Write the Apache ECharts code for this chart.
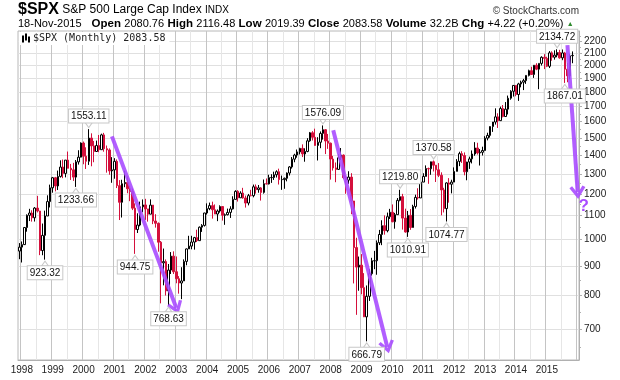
<!DOCTYPE html>
<html><head><meta charset="utf-8">
<script src="https://cdn.jsdelivr.net/npm/echarts@6/dist/echarts.min.js"></script>
<style>html,body{margin:0;padding:0;background:#fff}#c{width:620px;height:380px}</style>
</head><body><div id="c"></div>
<script>
// Monthly categories: Dec 1997 .. Jan 2016
const months = [];
for (let y = 1997; y <= 2016; y++) for (let m = 1; m <= 12; m++) {
  const k = y * 100 + m;
  if (k >= 199712 && k <= 201601) months.push(y + '-' + String(m).padStart(2, '0'));
}
const yTicks = [700, 800, 900, 1000, 1100, 1200, 1300, 1400, 1500, 1600, 1700, 1800, 1900, 2000, 2100, 2200];
const yMinorTicks = [650, 750, 850, 950, 1050, 1150, 1250, 1350, 1450, 1550, 1650, 1750, 1850, 1950, 2050, 2150, 2250];

const open = [955.40,
970.43,980.28,1049.34,1101.75,1111.75,1090.82,1133.84,1120.67,957.28,1017.01,1098.67,1163.63,
1229.23,1279.64,1238.33,1286.37,1335.18,1301.84,1372.71,1328.72,1320.41,1282.71,1362.93,1388.91,
1469.25,1394.46,1366.42,1498.58,1452.43,1420.60,1454.60,1430.83,1517.68,1436.51,1429.40,1314.95,
1320.28,1366.01,1239.94,1160.33,1249.46,1255.82,1224.42,1211.23,1133.58,1040.94,1059.78,1139.45,
1148.08,1130.20,1106.73,1147.39,1076.92,1067.14,989.82,911.62,916.07,815.28,885.76,936.31,
879.82,855.70,841.15,848.18,916.92,963.59,974.50,990.31,1008.01,995.97,1050.71,1058.20,
1111.92,1131.13,1144.94,1126.21,1107.30,1120.68,1140.84,1101.72,1104.24,1114.58,1130.20,1173.82,
1211.92,1181.27,1203.60,1180.59,1156.85,1191.50,1191.33,1234.18,1220.33,1228.81,1207.01,1249.48,
1248.29,1280.08,1280.66,1294.87,1310.61,1270.09,1270.20,1276.66,1303.82,1335.85,1377.94,1400.63,
1418.30,1438.24,1406.82,1420.86,1482.37,1530.62,1503.35,1455.27,1473.99,1526.75,1549.38,1481.14,
1468.36,1378.55,1330.63,1322.70,1385.59,1400.38,1280.00,1267.38,1282.83,1166.36,968.75,896.24,
903.25,825.88,735.09,797.87,872.81,919.14,919.32,987.48,1020.62,1057.08,1036.19,1095.63,
1115.10,1073.87,1104.49,1169.43,1186.69,1089.41,1030.71,1101.60,1049.33,1141.20,1183.26,1180.55,
1257.64,1286.12,1327.22,1325.83,1363.61,1345.20,1320.64,1292.28,1218.89,1131.42,1253.30,1246.96,
1257.60,1312.41,1365.68,1408.47,1397.91,1310.33,1362.16,1379.32,1406.58,1440.67,1412.16,1416.18,
1426.19,1498.11,1514.68,1569.19,1597.57,1630.74,1606.28,1685.73,1632.97,1681.55,1756.54,1805.81,
1848.36,1782.59,1859.45,1872.34,1883.95,1923.57,1960.23,1930.67,2003.37,1972.29,2018.05,2067.56,
2058.90,1994.99,2104.50,2067.89,2085.51,2107.39,2063.11,2103.84,1972.18,1920.03,2080.76];

const high = [986.25,
992.65,1051.66,1105.65,1130.52,1123.95,1138.49,1190.58,1121.26,1066.11,1122.31,1192.97,1244.93,
1283.56,1283.75,1316.55,1371.56,1375.98,1372.93,1420.33,1352.02,1357.74,1373.17,1427.68,1473.10,
1478.00,1444.55,1553.11,1527.19,1481.51,1483.76,1517.32,1525.21,1530.09,1454.82,1438.46,1389.06,
1383.37,1376.38,1267.42,1269.30,1315.93,1286.62,1239.78,1226.27,1155.40,1110.61,1163.38,1173.62,
1176.55,1130.20,1173.94,1147.84,1106.59,1070.74,994.46,965.00,924.02,907.44,951.57,954.28,
935.05,864.64,895.90,924.24,965.38,1015.33,1015.41,1011.01,1040.29,1053.79,1063.65,1112.56,
1155.38,1158.98,1163.23,1150.57,1127.74,1146.34,1140.84,1109.68,1131.54,1142.05,1188.46,1217.33,
1217.80,1212.44,1229.11,1191.88,1199.56,1219.59,1245.15,1245.86,1243.13,1233.34,1270.64,1275.80,
1294.90,1297.57,1310.88,1318.16,1326.70,1290.68,1280.42,1306.74,1340.28,1389.45,1407.89,1431.81,
1441.61,1461.57,1438.89,1498.02,1535.56,1540.56,1555.90,1503.89,1538.74,1576.09,1552.76,1523.57,
1471.77,1396.02,1359.68,1404.57,1440.24,1404.05,1292.17,1313.15,1303.04,1167.03,1007.51,934.73,
943.85,875.01,832.98,888.70,930.17,956.23,996.68,1039.47,1080.15,1101.36,1113.69,1130.38,
1150.45,1112.42,1180.16,1219.80,1200.00,1131.23,1120.95,1129.24,1148.90,1196.14,1227.08,1262.60,
1302.67,1344.07,1332.28,1364.56,1370.58,1345.20,1356.48,1307.38,1229.29,1256.55,1277.55,1269.37,
1333.47,1378.04,1419.15,1422.38,1415.32,1363.46,1391.74,1426.68,1474.51,1470.96,1434.27,1448.00,
1509.94,1530.94,1570.28,1597.57,1687.18,1654.19,1698.78,1709.67,1729.86,1775.22,1813.55,1849.44,
1850.84,1867.92,1883.97,1897.28,1924.03,1968.17,1991.39,2005.04,2019.26,2018.19,2075.76,2093.55,
2072.36,2119.59,2117.52,2125.92,2134.72,2129.87,2132.82,2112.66,2020.86,2094.32,2116.48];

const low = [924.92,
912.83,979.46,1032.10,1076.70,1074.39,1074.67,1114.30,939.98,939.71,923.32,1098.67,1136.89,
1205.46,1211.89,1218.47,1280.41,1277.31,1281.41,1328.72,1268.37,1263.47,1233.66,1348.48,1387.38,
1350.14,1325.07,1346.62,1339.40,1361.09,1420.60,1416.54,1430.83,1419.44,1305.79,1294.90,1254.07,
1274.62,1228.08,1081.19,1091.99,1232.00,1203.03,1165.54,1124.87,944.75,1026.76,1054.31,1114.93,
1081.66,1074.36,1106.73,1063.46,1048.96,952.92,775.68,833.44,800.20,768.63,872.05,871.85,
840.34,806.29,788.90,847.85,902.83,963.59,962.10,960.84,990.36,995.97,1031.20,1053.41,
1105.08,1124.44,1087.16,1107.23,1076.32,1113.32,1078.78,1060.72,1101.29,1090.19,1127.60,1173.76,
1163.75,1180.95,1176.92,1136.15,1146.18,1188.30,1183.55,1201.07,1205.35,1168.20,1201.07,1246.59,
1245.74,1253.61,1268.42,1280.74,1245.34,1219.29,1224.54,1261.30,1290.93,1327.10,1360.98,1385.93,
1403.97,1389.42,1363.98,1416.37,1476.70,1484.18,1454.25,1370.60,1439.29,1489.56,1406.10,1435.65,
1270.05,1316.75,1256.98,1320.90,1373.07,1272.00,1200.44,1248.64,1106.42,839.80,741.02,815.69,
804.22,734.52,666.79,783.32,866.10,888.86,869.32,978.51,978.12,1019.95,1029.38,1085.89,
1071.59,1044.50,1104.49,1165.00,1040.78,1028.33,1010.91,1039.70,1049.33,1131.87,1173.00,1180.55,
1257.62,1286.12,1249.05,1294.70,1311.80,1258.07,1282.86,1101.54,1114.22,1074.77,1158.66,1202.37,
1257.60,1312.41,1340.03,1357.38,1291.98,1266.74,1325.41,1354.65,1396.56,1403.28,1343.35,1398.11,
1426.19,1485.01,1501.48,1536.03,1581.28,1560.33,1604.57,1627.47,1630.00,1646.47,1746.20,1767.99,
1770.45,1737.92,1834.44,1814.36,1859.79,1915.98,1930.67,1904.78,1964.04,1820.66,2001.01,1972.56,
1988.12,1980.90,2039.69,2048.38,2067.93,2056.32,2044.02,1867.01,1871.91,1893.70,2019.39];

const close = [970.43,
980.28,1049.34,1101.75,1111.75,1090.82,1133.84,1120.67,957.28,1017.01,1098.67,1163.63,1229.23,
1279.64,1238.33,1286.37,1335.18,1301.84,1372.71,1328.72,1320.41,1282.71,1362.93,1388.91,1469.25,
1394.46,1366.42,1498.58,1452.43,1420.60,1454.60,1430.83,1517.68,1436.51,1429.40,1314.95,1320.28,
1366.01,1239.94,1160.33,1249.46,1255.82,1224.42,1211.23,1133.58,1040.94,1059.78,1139.45,1148.08,
1130.20,1106.73,1147.39,1076.92,1067.14,989.82,911.62,916.07,815.28,885.76,936.31,879.82,
855.70,841.15,848.18,916.92,963.59,974.50,990.31,1008.01,995.97,1050.71,1058.20,1111.92,
1131.13,1144.94,1126.21,1107.30,1120.68,1140.84,1101.72,1104.24,1114.58,1130.20,1173.82,1211.92,
1181.27,1203.60,1180.59,1156.85,1191.50,1191.33,1234.18,1220.33,1228.81,1207.01,1249.48,1248.29,
1280.08,1280.66,1294.87,1310.61,1270.09,1270.20,1276.66,1303.82,1335.85,1377.94,1400.63,1418.30,
1438.24,1406.82,1420.86,1482.37,1530.62,1503.35,1455.27,1473.99,1526.75,1549.38,1481.14,1468.36,
1378.55,1330.63,1322.70,1385.59,1400.38,1280.00,1267.38,1282.83,1166.36,968.75,896.24,903.25,
825.88,735.09,797.87,872.81,919.14,919.32,987.48,1020.62,1057.08,1036.19,1095.63,1115.10,
1073.87,1104.49,1169.43,1186.69,1089.41,1030.71,1101.60,1049.33,1141.20,1183.26,1180.55,1257.64,
1286.12,1327.22,1325.83,1363.61,1345.20,1320.64,1292.28,1218.89,1131.42,1253.30,1246.96,1257.60,
1312.41,1365.68,1408.47,1397.91,1310.33,1362.16,1379.32,1406.58,1440.67,1412.16,1416.18,1426.19,
1498.11,1514.68,1569.19,1597.57,1630.74,1606.28,1685.73,1632.97,1681.55,1756.54,1805.81,1848.36,
1782.59,1859.45,1872.34,1883.95,1923.57,1960.23,1930.67,2003.37,1972.29,2018.05,2067.56,2058.90,
1994.99,2104.50,2067.89,2085.51,2107.39,2063.11,2103.84,1972.18,1920.03,2079.36,2083.58];

// Annotated highs / lows: [month, value, side]
const peaks = [
  ['2000-03', 1553.11, 'top'], ['1999-10', 1233.66, 'bottom'], ['1998-10', 923.32, 'bottom'],
  ['2001-09', 944.75, 'bottom'], ['2002-10', 768.63, 'bottom'], ['2007-10', 1576.09, 'top'],
  ['2009-03', 666.79, 'bottom'], ['2010-04', 1219.80, 'top'], ['2010-07', 1010.91, 'bottom'],
  ['2011-05', 1370.58, 'top'], ['2011-10', 1074.77, 'bottom'], ['2015-05', 2134.72, 'top'],
  ['2015-08', 1867.01, 'bottom']
];
// Drawn trend arrows: [from month, from value, to month, to value]
const arrows = [
  ['2000-12', 1509, '2003-01', 762],
  ['2008-02', 1546, '2009-11', 652],
  ['2015-09', 2171, '2016-01', 1207]
];
const question = ['2016-01', 1141];

const seriesName = '$SPX (Monthly) 2083.58';
const candles = months.map((m, i) => i < close.length ? [open[i], close[i], low[i], high[i]] : '-');
const purple = '#a94cff';
const chevron = 'path://M10,0 L20,13 L16.5,15 L10,6.5 L3.5,15 L0,13 Z';
const labelBox = {backgroundColor: '#fff', borderColor: '#c8c8c8', borderWidth: 1, padding: [2, 2, 1, 2],
  color: '#111', fontSize: 10, fontFamily: 'Liberation Sans'};

const markItems = [];
peaks.forEach(p => {
  const up = p[2] === 'top';
  // pointer notch
  markItems.push({coord: [p[0], p[1]], symbol: 'triangle', symbolSize: [7, 5], symbolRotate: up ? 180 : 0,
    symbolOffset: [0, up ? -4 : 4], itemStyle: {color: '#fff', borderColor: '#c8c8c8', borderWidth: 1},
    label: {show: false}});
  // value box
  markItems.push({coord: [p[0], p[1]], symbol: 'circle', symbolSize: 1, itemStyle: {color: 'rgba(0,0,0,0)'},
    label: Object.assign({show: true, position: p[2], distance: 6, formatter: p[1].toFixed(2)}, labelBox)});
});
markItems.push({coord: question, symbol: 'circle', symbolSize: 1, itemStyle: {color: 'rgba(0,0,0,0)'},
  label: {show: true, position: 'inside', offset: [6, 0], formatter: '?', color: purple, fontSize: 17, fontWeight: 'bold', fontFamily: 'Liberation Sans'}});

const chart = echarts.init(document.getElementById('c'), null, {renderer: 'canvas'});
chart.setOption({
  animation: false,
  backgroundColor: '#fff',
  textStyle: {fontFamily: 'Liberation Sans'},
  graphic: [
    {type: 'text', left: 18, top: 2, style: {
      text: '{a|$SPX} {b|S&P 500 Large Cap Index} {c|INDX}',
      rich: {
        a: {fontSize: 16, fontWeight: 'bold', fontFamily: 'Liberation Sans', fill: '#000'},
        b: {fontSize: 12, fontFamily: 'Liberation Sans', fill: '#000'},
        c: {fontSize: 10, fontFamily: 'Liberation Sans', fill: '#000'}
      }}},
    {type: 'text', right: 41, top: 6, style: {text: '\u00A9 StockCharts.com', fontSize: 10, fontFamily: 'Liberation Sans', fill: '#333'}},
    {type: 'text', left: 18, top: 18, style: {
      text: '{n|18-Nov-2015}   {k|Open} {n|2080.76} {k|High} {n|2116.48} {k|Low} {n|2019.39} {k|Close} {n|2083.58} {k|Volume} {n|32.2B} {k|Chg} {n|+4.22 (+0.20%)} {g|\u25B2}',
      rich: {
        n: {fontSize: 11, fontFamily: 'Liberation Sans', fill: '#000'},
        k: {fontSize: 11.5, fontWeight: 'bold', fontFamily: 'Liberation Sans', fill: '#000'},
        g: {fontSize: 7, fill: '#2e8b2e'}
      }}}
  ],
  legend: {
    data: [seriesName], left: 19, top: 32, selectedMode: false,
    backgroundColor: '#fff', padding: [1, 4, 2, 3], itemWidth: 8, itemHeight: 9, itemGap: 4,
    icon: 'path://M0,2 L2,2 L2,9 L0,9 Z M3,0 L5,0 L5,7 L3,7 Z M6,3 L8,3 L8,9 L6,9 Z',
    itemStyle: {color: '#000', borderWidth: 0},
    textStyle: {fontFamily: 'DejaVu Sans Mono', fontSize: 10, color: '#222', padding: [0, 0, 0, -2]}
  },
  grid: {left: 18, right: 41, top: 31, bottom: 20, show: true, borderColor: '#b8b8b8', borderWidth: 1, backgroundColor: '#fff'},
  xAxis: {
    type: 'category', data: months, boundaryGap: true,
    axisLine: {show: true, lineStyle: {color: '#b0b0b0'}},
    axisTick: {show: false},
    axisLabel: {interval: (i) => i % 12 === 1 && i < months.length - 1, formatter: (v) => v.slice(0, 4), color: '#222', fontSize: 10, fontFamily: 'Liberation Sans', margin: 5},
    splitLine: {show: true, interval: (i) => i > 0 && (i - 1) % 6 === 0, lineStyle: {color: ['#c4c4c4', '#e6e6e6'], width: 1}}
  },
  yAxis: [{
    type: 'log', logBase: 10, position: 'right', min: 619, max: 2296,
    axisLine: {show: true, lineStyle: {color: '#b0b0b0'}},
    axisTick: {show: true, length: 3, customValues: yTicks, lineStyle: {color: '#b0b0b0'}},
    axisLabel: {customValues: yTicks, formatter: (v) => String(Math.round(v)), color: '#222', fontSize: 10, fontFamily: 'Liberation Sans', margin: 5},
    splitLine: {show: true, lineStyle: {color: '#e0e0e0'}}
  }, {
    type: 'log', logBase: 10, position: 'right', min: 619, max: 2296,
    axisLine: {show: false},
    axisTick: {show: true, length: 2, customValues: yMinorTicks, lineStyle: {color: '#b0b0b0'}},
    axisLabel: {show: false},
    splitLine: {show: false}
  }],
  series: [{
    name: seriesName, type: 'candlestick', data: candles, barWidth: 2, clip: false,
    itemStyle: {color: '#ffffff', color0: '#d4103c', borderColor: '#000000', borderColor0: '#d4103c', borderWidth: 1},
    markPoint: {silent: true, data: markItems},
    markLine: {
      silent: true, symbol: ['none', chevron], symbolSize: [16, 13], precision: 2,
      lineStyle: {color: purple, width: 4, type: 'solid', opacity: 0.9},
      label: {show: false},
      data: arrows.map(a => [{coord: [a[0], a[1]]}, {coord: [a[2], a[3]]}])
    }
  }]
});
</script>
</body></html>
